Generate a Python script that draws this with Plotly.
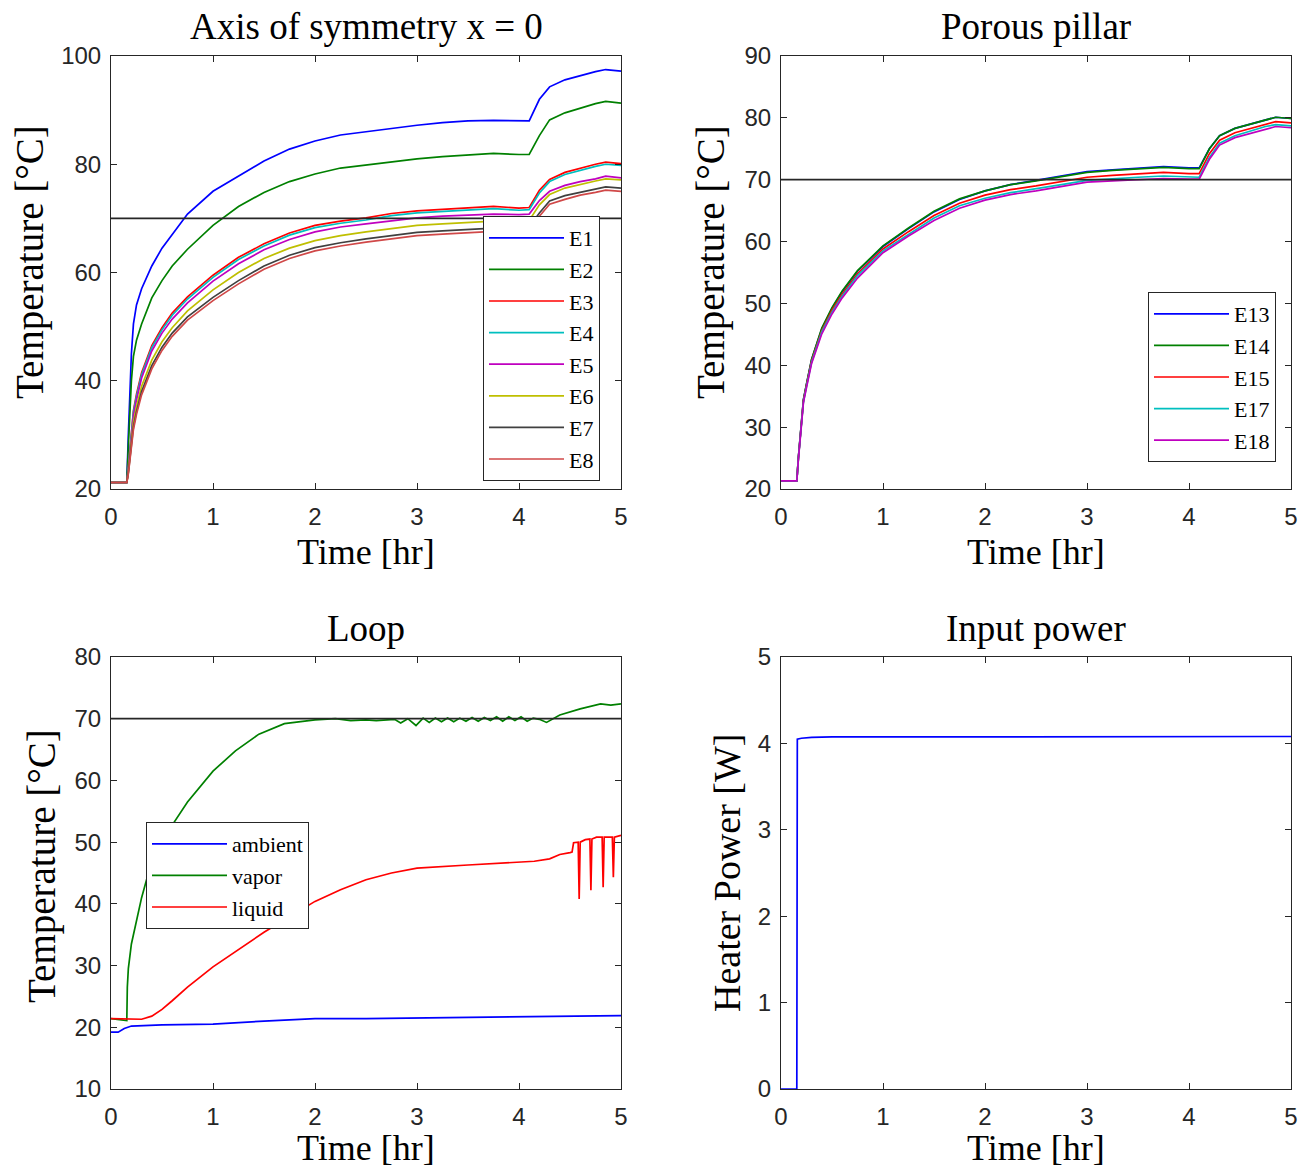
import plotly.graph_objects as go

# ---------------- data ----------------
# Axis of symmetry x = 0
t_axis = [0, 0.155, 0.17, 0.2, 0.22, 0.25, 0.3, 0.4, 0.5, 0.6, 0.75, 1.0, 1.25, 1.5, 1.75,
          2.0, 2.25, 2.5, 2.75, 3.0, 3.25, 3.5, 3.75, 4.0, 4.1, 4.2, 4.3, 4.45, 4.6, 4.75, 4.85, 5.0]
E1 = [21.2, 21.2, 30.0, 45.0, 50.5, 54.0, 57.0, 61.2, 64.5, 67.0, 70.8, 75.0, 77.8, 80.6, 82.8,
      84.3, 85.4, 86.0, 86.7, 87.2, 87.7, 88.0, 88.1, 88.0, 88.0, 92.0, 94.3, 95.6, 96.4, 97.1, 97.5, 97.2]
E2 = [21.2, 21.2, 28.0, 40.0, 44.5, 47.5, 50.5, 55.3, 58.5, 61.2, 64.3, 68.7, 72.2, 74.8, 76.8,
      78.2, 79.3, 79.9, 80.5, 81.0, 81.4, 81.7, 82.0, 81.8, 81.8, 85.3, 88.2, 89.5, 90.4, 91.2, 91.6, 91.3]
E3 = [21.2, 21.2, 24.0, 31.0, 34.5, 37.5, 41.5, 46.5, 49.8, 52.5, 55.5, 59.5, 62.8, 65.3, 67.3,
      68.7, 69.5, 70.1, 70.9, 71.4, 71.7, 72.0, 72.2, 71.9, 72.0, 75.2, 77.2, 78.5, 79.3, 80.0, 80.4, 80.1]
E4 = [21.2, 21.2, 24.0, 30.6, 34.2, 37.1, 41.1, 46.1, 49.4, 52.1, 55.1, 59.1, 62.4, 64.9, 66.9,
      68.3, 69.1, 69.7, 70.5, 71.0, 71.3, 71.6, 71.8, 71.5, 71.6, 74.7, 76.8, 78.1, 78.9, 79.6, 80.0, 79.8]
E5 = [21.2, 21.2, 23.5, 30.0, 33.5, 36.5, 40.5, 45.5, 48.8, 51.4, 54.4, 58.4, 61.6, 64.2, 66.1,
      67.5, 68.4, 69.0, 69.6, 70.1, 70.4, 70.6, 70.8, 70.7, 70.8, 73.3, 75.0, 76.1, 76.8, 77.3, 77.8, 77.5]
E6 = [21.2, 21.2, 23.2, 29.0, 32.3, 35.2, 39.0, 43.8, 47.2, 49.8, 52.9, 56.8, 60.0, 62.6, 64.5,
      65.9, 66.8, 67.5, 68.1, 68.7, 69.0, 69.3, 69.5, 69.5, 69.6, 72.5, 74.4, 75.6, 76.3, 76.9, 77.3, 77.1]
E7 = [21.2, 21.2, 23.0, 28.3, 31.5, 34.3, 38.0, 42.8, 46.2, 48.8, 51.8, 55.4, 58.5, 61.2, 63.2,
      64.6, 65.5, 66.2, 66.8, 67.4, 67.7, 68.0, 68.2, 68.3, 68.4, 71.0, 73.2, 74.2, 74.8, 75.4, 75.8, 75.6]
E8 = [21.2, 21.2, 22.8, 27.8, 31.0, 33.8, 37.4, 42.2, 45.6, 48.2, 51.2, 54.8, 57.9, 60.6, 62.6,
      64.0, 64.9, 65.6, 66.2, 66.8, 67.1, 67.4, 67.6, 67.8, 67.9, 70.4, 72.6, 73.5, 74.3, 74.8, 75.2, 75.0]

# Porous pillar
t_pillar = [0, 0.155, 0.17, 0.2, 0.22, 0.25, 0.3, 0.4, 0.5, 0.6, 0.75, 1.0, 1.25, 1.5, 1.75,
            2.0, 2.25, 2.5, 2.75, 3.0, 3.25, 3.5, 3.75, 4.0, 4.1, 4.2, 4.3, 4.45, 4.6, 4.75, 4.85, 5.0]
E13 = [21.3, 21.3, 25.0, 31.0, 34.4, 36.9, 40.9, 45.9, 49.2, 51.9, 55.2, 59.2, 62.1, 64.8, 66.8,
       68.2, 69.2, 69.9, 70.6, 71.3, 71.6, 71.9, 72.1, 71.9, 71.9, 75.0, 77.1, 78.3, 79.0, 79.7, 80.1, 79.9]
E14 = [21.3, 21.3, 25.0, 31.0, 34.5, 37.0, 41.0, 46.0, 49.3, 52.0, 55.3, 59.3, 62.2, 64.9, 66.9,
       68.2, 69.2, 69.8, 70.5, 71.2, 71.5, 71.8, 72.0, 71.8, 71.8, 75.0, 77.1, 78.3, 79.0, 79.7, 80.1, 79.9]
E15 = [21.3, 21.3, 24.9, 30.8, 34.3, 36.8, 40.7, 45.6, 48.9, 51.5, 54.8, 58.8, 61.6, 64.2, 66.2,
       67.5, 68.4, 69.0, 69.7, 70.4, 70.7, 71.0, 71.2, 71.0, 71.0, 74.2, 76.4, 77.6, 78.3, 79.0, 79.4, 79.2]
E17 = [21.3, 21.3, 24.8, 30.7, 34.1, 36.6, 40.5, 45.4, 48.6, 51.2, 54.5, 58.5, 61.2, 63.8, 65.8,
       67.0, 67.9, 68.5, 69.2, 69.9, 70.2, 70.4, 70.6, 70.4, 70.4, 73.6, 75.9, 77.1, 77.9, 78.6, 78.9, 78.7]
E18 = [21.3, 21.3, 24.7, 30.6, 34.0, 36.4, 40.3, 45.1, 48.3, 50.9, 54.1, 58.2, 60.9, 63.4, 65.4,
       66.7, 67.6, 68.2, 68.9, 69.6, 69.8, 70.0, 70.2, 70.1, 70.1, 73.3, 75.6, 76.8, 77.5, 78.2, 78.6, 78.4]

# Loop
t_ambient = [0, 0.07, 0.13, 0.2, 0.5, 1.0, 1.5, 2.0, 2.5, 3.0, 3.5, 4.0, 4.5, 5.0]
ambient = [19.2, 19.2, 19.8, 20.2, 20.4, 20.5, 21.0, 21.4, 21.4, 21.5, 21.6, 21.7, 21.8, 21.9]

t_vapor = [0, 0.155, 0.16, 0.17, 0.2, 0.25, 0.3, 0.35, 0.42, 0.55, 0.75, 1.0, 1.22, 1.45, 1.7,
           2.0, 2.2, 2.35, 2.5, 2.6, 2.70, 2.78, 2.84, 2.91, 2.99, 3.06, 3.12, 3.18, 3.24, 3.30,
           3.36, 3.42, 3.48, 3.54, 3.60, 3.66, 3.72, 3.78, 3.84, 3.90, 3.96, 4.02, 4.08, 4.14,
           4.20, 4.27, 4.4, 4.6, 4.8, 4.9, 5.0]
vapor = [21.4, 21.1, 26.5, 29.5, 33.5, 37.5, 41.0, 44.0, 47.5, 51.5, 56.5, 61.5, 64.8, 67.5, 69.2,
         69.8, 70.0, 69.7, 69.8, 69.7, 69.8, 69.9, 69.3, 70.0, 68.9, 70.1, 69.4, 70.1, 69.5, 70.1,
         69.5, 70.1, 69.6, 70.2, 69.6, 70.2, 69.7, 70.3, 69.6, 70.3, 69.7, 70.3, 69.6, 70.1,
         69.9, 69.4, 70.6, 71.6, 72.4, 72.2, 72.4]

t_liquid = [0, 0.15, 0.3, 0.4, 0.5, 0.6, 0.75, 1.0, 1.25, 1.5, 1.75, 2.0, 2.25, 2.5, 2.75, 3.0,
            3.5, 4.0, 4.15, 4.3, 4.4, 4.5, 4.52, 4.535, 4.58, 4.59, 4.60, 4.65, 4.695, 4.705,
            4.715, 4.76, 4.815, 4.825, 4.835, 4.88, 4.915, 4.925, 4.935, 5.0]
liquid = [21.4, 21.3, 21.3, 21.8, 22.9, 24.3, 26.5, 29.8, 32.6, 35.4, 37.9, 40.4, 42.3, 43.9, 45.0, 45.8,
          46.3, 46.7, 46.9, 47.3, 48.0, 48.3, 48.4, 49.9, 50.0, 40.8, 50.0, 50.4, 50.5, 42.2,
          50.5, 50.8, 50.8, 42.7, 50.8, 50.8, 50.8, 44.3, 50.8, 51.1]

# Input power
t_power = [0, 0.155, 0.16, 0.2, 0.3, 0.5, 1.0, 2.0, 3.0, 4.0, 5.0]
power = [0, 0, 4.05, 4.06, 4.07, 4.075, 4.075, 4.075, 4.075, 4.075, 4.08]

setpoint = 70

# ---------------- styling ----------------
W, H = 1307, 1172
AX = '#262626'
SERIF = 'Liberation Serif, Times New Roman, serif'
SANS = 'Liberation Sans, Arial, sans-serif'

def px(x):
    return x / W

def py(y):
    return 1 - y / H

colors_axis = {'E1': '#0000ff', 'E2': '#008000', 'E3': '#ff0000', 'E4': '#00bfbf',
               'E5': '#bf00bf', 'E6': '#bfbf00', 'E7': '#404040', 'E8': '#d04848'}
colors_pillar = {'E13': '#0000ff', 'E14': '#008000', 'E15': '#ff0000', 'E17': '#00bfbf', 'E18': '#bf00bf'}

fig = go.Figure()

def add(x, y, name, color, xa, ya, legend=None, show=True):
    fig.add_trace(go.Scatter(x=x, y=y, name=name, mode='lines',
                             line=dict(color=color, width=1.7),
                             xaxis=xa, yaxis=ya, showlegend=show,
                             legend=legend if legend else 'legend'))

for nm, vals in zip(['E1', 'E2', 'E3', 'E4', 'E5', 'E6', 'E7', 'E8'], [E1, E2, E3, E4, E5, E6, E7, E8]):
    add(t_axis, vals, nm, colors_axis[nm], 'x', 'y', 'legend')
add([0, 5], [setpoint, setpoint], 'set', '#262626', 'x', 'y', show=False)

for nm, vals in zip(['E13', 'E14', 'E15', 'E17', 'E18'], [E13, E14, E15, E17, E18]):
    add(t_pillar, vals, nm, colors_pillar[nm], 'x2', 'y2', 'legend2')
add([0, 5], [setpoint, setpoint], 'set', '#262626', 'x2', 'y2', show=False)

add(t_ambient, ambient, 'ambient', '#0000ff', 'x3', 'y3', 'legend3')
add(t_vapor, vapor, 'vapor', '#008000', 'x3', 'y3', 'legend3')
add(t_liquid, liquid, 'liquid', '#ff0000', 'x3', 'y3', 'legend3')
add([0, 5], [setpoint, setpoint], 'set', '#262626', 'x3', 'y3', show=False)

add(t_power, power, 'power', '#0000ff', 'x4', 'y4', show=False)

def xaxis(domain, anchor):
    return dict(domain=domain, anchor=anchor, range=[0, 5], dtick=1, tick0=0,
                showline=True, linecolor=AX, linewidth=1, mirror='ticks', automargin=False,
                ticks='inside', ticklen=6, tickcolor=AX, showgrid=False, zeroline=False,
                tickfont=dict(family=SANS, size=24, color=AX), ticklabelstandoff=6)

def yaxis(domain, anchor, rng, dt):
    return dict(domain=domain, anchor=anchor, range=rng, dtick=dt, tick0=0,
                showline=True, linecolor=AX, linewidth=1, mirror='ticks', automargin=False,
                ticks='inside', ticklen=6, tickcolor=AX, showgrid=False, zeroline=False,
                tickfont=dict(family=SANS, size=24, color=AX), ticklabelstandoff=4)

xl = [px(111), px(621)]
xr = [px(781), px(1291)]
yt = [py(489), py(56)]
yb = [py(1089), py(657)]

leg_common = dict(font=dict(family=SERIF, size=22, color='black'), bgcolor='white',
                  bordercolor=AX, borderwidth=1, tracegroupgap=0, itemwidth=75)

fig.update_layout(
    width=W, height=H, margin=dict(l=0, r=0, t=0, b=0, autoexpand=False),
    paper_bgcolor='white', plot_bgcolor='white',
    xaxis=xaxis(xl, 'y'), yaxis=yaxis(yt, 'x', [20, 100], 20),
    xaxis2=xaxis(xr, 'y2'), yaxis2=yaxis(yt, 'x2', [20, 90], 10),
    xaxis3=xaxis(xl, 'y3'), yaxis3=yaxis(yb, 'x3', [10, 80], 10),
    xaxis4=xaxis(xr, 'y4'), yaxis4=yaxis(yb, 'x4', [0, 5], 1),
    legend=dict(x=px(600), y=py(481), xanchor='right', yanchor='bottom', **leg_common),
    legend2=dict(x=px(1276), y=py(462), xanchor='right', yanchor='bottom', **leg_common),
    legend3=dict(x=px(146), y=py(822), xanchor='left', yanchor='top', **leg_common),
)

ann = []
def text(x, y, s, size, angle=0):
    ann.append(dict(x=px(x), y=py(y), xref='paper', yref='paper', text=s, showarrow=False,
                    font=dict(family=SERIF, size=size, color='black'),
                    xanchor='center', yanchor='middle', textangle=angle, borderpad=0))

text(366, 27, 'Axis of symmetry x = 0', 37)
text(1036, 27, 'Porous pillar', 37)
text(366, 628, 'Loop', 37)
text(1036, 628, 'Input power', 37)
for cx in (366, 1036):
    text(cx, 552, 'Time [hr]', 36)
    text(cx, 1148, 'Time [hr]', 36)
text(30, 262, 'Temperature [°C]', 39, -90)
text(711, 262, 'Temperature [°C]', 39, -90)
text(42, 866, 'Temperature [°C]', 39, -90)
text(727, 873, 'Heater Power [W]', 38, -90)
fig.update_layout(annotations=ann)

fig.write_html('out.html')
